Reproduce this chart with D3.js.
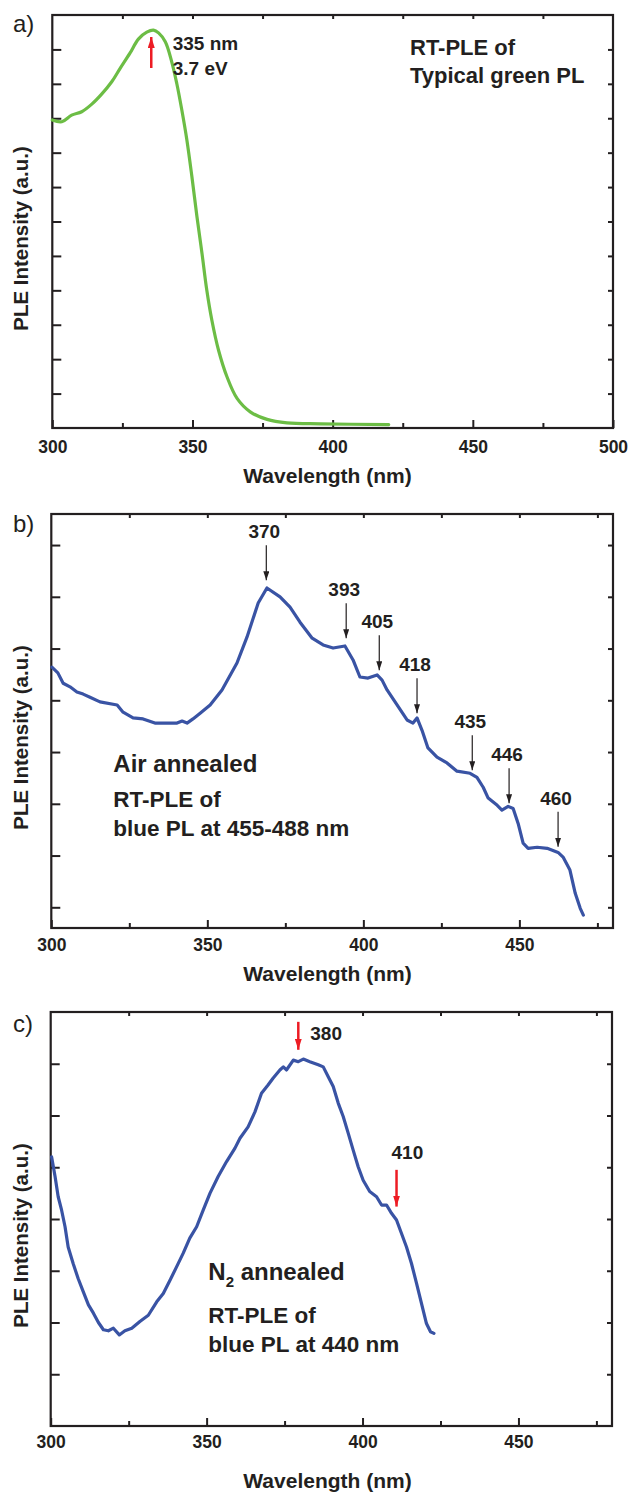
<!DOCTYPE html>
<html>
<head>
<meta charset="utf-8">
<script src="https://cdn.jsdelivr.net/npm/d3@7"></script>
<style>
  body { margin: 0; background: #fff; }
  text { font-family: "Liberation Sans", Arial, sans-serif; fill: #231f20; }
</style>
</head>
<body>
<div id="chart"></div>
<script>
// ---- panel a: typical green PL ----
const aWavelength = [300, 303.4, 306.9, 310.5, 314.1, 317.6, 321.2, 324.2, 327.7, 330.7, 333.7, 336.1, 337.9, 340.3, 342.6, 344.4, 346.2, 348.0, 349.8, 351.6, 353.4, 355.1, 356.9, 359.3, 362.3, 365.9, 370.6, 376.6, 383.7, 395.6, 420];
const aIntensity = [8.95, 8.90, 9.09, 9.19, 9.41, 9.70, 10.06, 10.45, 10.89, 11.30, 11.50, 11.56, 11.48, 11.22, 10.64, 10.01, 9.24, 8.37, 7.30, 6.14, 5.07, 4.01, 3.14, 2.26, 1.49, 0.86, 0.47, 0.25, 0.15, 0.12, 0.10];

// ---- panel b: air annealed ----
const bWavelength = [300.2, 302.1, 303.8, 306.0, 308.2, 310.2, 312.4, 315.6, 321.1, 323.0, 326.2, 329.4, 333.2, 335.8, 340.3, 341.9, 343.5, 345.4, 347.7, 350.9, 354.7, 359.5, 362.7, 366.3, 369.1, 373.3, 376.5, 379.7, 383.6, 387.1, 390.3, 394.1, 396.7, 398.9, 401.5, 404.4, 406.0, 407.6, 410.8, 414.0, 415.9, 417.2, 418.8, 420.7, 423.6, 426.8, 430.0, 434.2, 436.4, 438.4, 440.0, 442.9, 444.4, 446.4, 448.0, 449.6, 451.2, 452.8, 455.7, 458.9, 462.4, 464.0, 466.2, 467.9, 469.5, 470.5];
const bIntensity = [4.64, 4.53, 4.33, 4.26, 4.16, 4.12, 4.06, 3.97, 3.91, 3.77, 3.66, 3.64, 3.56, 3.56, 3.56, 3.60, 3.56, 3.64, 3.75, 3.91, 4.20, 4.72, 5.22, 5.88, 6.17, 6.00, 5.80, 5.51, 5.20, 5.07, 5.01, 5.05, 4.78, 4.45, 4.43, 4.49, 4.39, 4.20, 3.91, 3.62, 3.56, 3.66, 3.42, 3.08, 2.90, 2.79, 2.63, 2.59, 2.51, 2.32, 2.11, 1.97, 1.88, 1.95, 1.91, 1.62, 1.24, 1.14, 1.16, 1.14, 1.06, 0.97, 0.72, 0.27, -0.02, -0.15];
const bPeakLabels = ["370", "393", "405", "418", "435", "446", "460"];
const bArrowNm = [368.9, 394.5, 405.1, 417.2, 434.9, 446.7, 462.4];
const bArrowTip = [6.32, 5.20, 4.58, 3.75, 2.65, 2.01, 1.17];

// ---- panel c: N2 annealed ----
const cWavelength = [300.3, 301.4, 302.4, 303.5, 304.6, 305.6, 307.2, 308.8, 310.4, 312.1, 313.7, 315.3, 316.9, 318.5, 320.1, 322.0, 323.8, 326.0, 328.6, 331.3, 334.0, 336.1, 338.3, 340.4, 342.5, 344.6, 346.8, 348.9, 351.1, 353.7, 356.4, 359.1, 360.7, 363.3, 365.5, 367.6, 369.7, 371.3, 373.5, 374.6, 375.6, 377.8, 379.4, 381.0, 383.1, 385.8, 387.4, 389.0, 390.6, 392.2, 393.8, 395.4, 397.0, 398.6, 400.2, 402.3, 404.5, 406.1, 407.7, 409.3, 410.9, 412.5, 414.1, 415.7, 417.3, 418.9, 420.5, 421.8, 422.9];
const cIntensity = [5.20, 4.82, 4.43, 4.17, 3.85, 3.46, 3.14, 2.85, 2.60, 2.34, 2.18, 2.00, 1.86, 1.84, 1.89, 1.76, 1.84, 1.89, 2.02, 2.14, 2.40, 2.56, 2.82, 3.08, 3.34, 3.63, 3.85, 4.17, 4.50, 4.82, 5.11, 5.37, 5.56, 5.78, 6.07, 6.43, 6.59, 6.72, 6.88, 6.94, 6.88, 7.07, 7.04, 7.09, 7.04, 6.98, 6.94, 6.75, 6.56, 6.24, 5.98, 5.66, 5.33, 5.01, 4.75, 4.53, 4.43, 4.27, 4.27, 4.11, 3.98, 3.72, 3.46, 3.14, 2.76, 2.37, 1.98, 1.82, 1.79];

// red arrows: wavelength, tail value, tip value
const aRedArrow = [{ nm: 335.3, tail: 10.46, tip: 11.36 }];
const cRedArrows = [{ nm: 379.4, tail: 7.81, tip: 7.27 }, { nm: 410.9, tail: 4.95, tip: 4.24 }];

const xLabelsWide = [300, 350, 400, 450, 500];
const xLabelsNarrow = [300, 350, 400, 450];

const ink = "#231f20";
const red = "#ed1c24";
const svg = d3.select("#chart").append("svg").attr("width", 629).attr("height", 1492);

const defs = svg.append("defs");
const addHead = (id, color, w, l) => {
  defs.append("marker").attr("id", id)
    .attr("markerUnits", "userSpaceOnUse")
    .attr("viewBox", `0 ${-w / 2} ${l} ${w}`)
    .attr("refX", l).attr("refY", 0)
    .attr("markerWidth", l).attr("markerHeight", w)
    .attr("orient", "auto")
    .append("path").attr("d", `M0,${-w / 2}L${l},0L0,${w / 2}Z`).attr("fill", color);
};
addHead("head-black", ink, 6, 9);
addHead("head-red", red, 7, 11);

const panels = [
  { tag: "a)", tagY: 32, left: 52.3, right: 613, top: 15, bottom: 428, xDomain: [300, 500], yDomain: [0, 12],
    yTicks: d3.range(1, 12), xLabels: xLabelsWide, pad: 13, titleY: 483,
    xs: aWavelength, ys: aIntensity, color: "#6cbd45", curve: d3.curveCatmullRom.alpha(0.5) },
  { tag: "b)", tagY: 532, left: 51.3, right: 613, top: 514, bottom: 928, xDomain: [300, 480], yDomain: [-0.4, 7.6],
    yTicks: d3.range(0, 8), xLabels: xLabelsNarrow, pad: 11, titleY: 981,
    xs: bWavelength, ys: bIntensity, color: "#3953a4", curve: d3.curveLinear },
  { tag: "c)", tagY: 1032, left: 50.7, right: 612, top: 1012, bottom: 1426, xDomain: [300, 480], yDomain: [0, 8],
    yTicks: d3.range(1, 8), xLabels: xLabelsNarrow, pad: 10, titleY: 1488,
    xs: cWavelength, ys: cIntensity, color: "#3953a4", curve: d3.curveLinear }
];

const styleAxis = (g) => {
  g.select(".domain").remove();
  g.attr("color", ink)
    .attr("font-family", '"Liberation Sans", Arial, sans-serif')
    .attr("font-size", 17.5).attr("font-weight", "bold");
  g.selectAll(".tick line").attr("stroke-width", 2);
  g.selectAll(".tick text").attr("fill", ink);
};

const drawPanel = (p) => {
  const x = d3.scaleLinear().domain(p.xDomain).range([p.left, p.right]);
  const y = d3.scaleLinear().domain(p.yDomain).range([p.bottom, p.top]);
  const g = svg.append("g");

  const quarter = d3.range(p.xDomain[0] + 25, p.xDomain[1], 25);
  const minor = quarter.filter((d) => d % 50 !== 0);

  // bottom: major ticks with labels, minor ticks without
  g.append("g").attr("transform", `translate(0,${p.bottom})`)
    .call(d3.axisBottom(x).tickValues(p.xLabels).tickSize(-8).tickPadding(p.pad).tickFormat(d3.format("d")))
    .call(styleAxis);
  g.append("g").attr("transform", `translate(0,${p.bottom})`)
    .call(d3.axisBottom(x).tickValues(minor).tickSize(-5).tickFormat(""))
    .call(styleAxis);
  // top
  g.append("g").attr("transform", `translate(0,${p.top})`)
    .call(d3.axisTop(x).tickValues(quarter).tickSize(-4).tickFormat(""))
    .call(styleAxis);
  // left / right
  g.append("g").attr("transform", `translate(${p.left},0)`)
    .call(d3.axisLeft(y).tickValues(p.yTicks).tickSize(-9).tickFormat(""))
    .call(styleAxis);
  g.append("g").attr("transform", `translate(${p.right},0)`)
    .call(d3.axisRight(y).tickValues(p.yTicks).tickSize(-5).tickFormat(""))
    .call(styleAxis);

  // frame
  g.append("rect")
    .attr("x", p.left).attr("y", p.top)
    .attr("width", p.right - p.left).attr("height", p.bottom - p.top)
    .attr("fill", "none").attr("stroke", ink).attr("stroke-width", 2.2);

  // curve
  const pts = p.xs.map((d, i) => [d, p.ys[i]]);
  g.append("path").datum(pts)
    .attr("fill", "none").attr("stroke", p.color).attr("stroke-width", 3.2)
    .attr("stroke-linejoin", "round").attr("stroke-linecap", "round")
    .attr("d", d3.line().x((d) => x(d[0])).y((d) => y(d[1])).curve(p.curve));

  // titles
  svg.append("text").attr("x", 13).attr("y", p.tagY)
    .attr("font-size", 24).text(p.tag);
  svg.append("text").attr("x", 327.5).attr("y", p.titleY)
    .attr("text-anchor", "middle").attr("font-size", 21).attr("font-weight", "bold")
    .text("Wavelength (nm)");
  svg.append("text")
    .attr("transform", `translate(27.5,${p.top + 223.5}) rotate(-90)`)
    .attr("text-anchor", "middle").attr("font-size", 20.5).attr("font-weight", "bold")
    .text("PLE Intensity (a.u.)");

  return { x, y, g };
};

const redArrow = (s, a) => {
  s.g.append("line")
    .attr("x1", s.x(a.nm)).attr("x2", s.x(a.nm))
    .attr("y1", s.y(a.tail)).attr("y2", s.y(a.tip))
    .attr("stroke", red).attr("stroke-width", 2.5)
    .attr("marker-end", "url(#head-red)");
};

const addText = (lines) => {
  lines.forEach((l) => {
    const t = svg.append("text").attr("x", l.x).attr("y", l.y)
      .attr("font-size", l.size).attr("font-weight", "bold");
    if (l.sub) {
      t.append("tspan").text(l.text[0]);
      t.append("tspan").attr("font-size", 15).attr("dy", 7).text(l.sub);
      t.append("tspan").attr("dy", -7).text(l.text[1]);
    } else {
      t.text(l.text);
    }
  });
};

// panel a
const sa = drawPanel(panels[0]);
aRedArrow.forEach((a) => redArrow(sa, a));
addText([
  { x: 172.7, y: 50, size: 19, text: "335 nm" },
  { x: 172.7, y: 75, size: 19, text: "3.7 eV" },
  { x: 410, y: 55, size: 22, text: "RT-PLE of" },
  { x: 410, y: 83, size: 22, text: "Typical green PL" }
]);

// panel b
const sb = drawPanel(panels[1]);
bPeakLabels.forEach((lab, i) => {
  const px = sb.x(bArrowNm[i]);
  const tip = sb.y(bArrowTip[i]);
  sb.g.append("line")
    .attr("x1", px).attr("x2", px).attr("y1", tip - 35).attr("y2", tip)
    .attr("stroke", ink).attr("stroke-width", 1.2)
    .attr("marker-end", "url(#head-black)");
  sb.g.append("text").attr("x", px - 2).attr("y", tip - 42)
    .attr("text-anchor", "middle").attr("font-size", 19).attr("font-weight", "bold")
    .text(lab);
});
addText([
  { x: 113.3, y: 771.7, size: 24, text: "Air annealed" },
  { x: 113.3, y: 806.7, size: 22.5, text: "RT-PLE of" },
  { x: 113.3, y: 835.7, size: 22.5, text: "blue PL at 455-488 nm" }
]);

// panel c
const sc = drawPanel(panels[2]);
cRedArrows.forEach((a) => redArrow(sc, a));
addText([
  { x: sc.x(cRedArrows[0].nm) + 12, y: 1040, size: 19, text: "380" },
  { x: sc.x(cRedArrows[1].nm) - 5, y: 1158.6, size: 19, text: "410" },
  { x: 208.3, y: 1280, size: 24, text: ["N", " annealed"], sub: "2" },
  { x: 208.3, y: 1323, size: 22.5, text: "RT-PLE of" },
  { x: 208.3, y: 1352, size: 22.5, text: "blue PL at 440 nm" }
]);
</script>
</body>
</html>
